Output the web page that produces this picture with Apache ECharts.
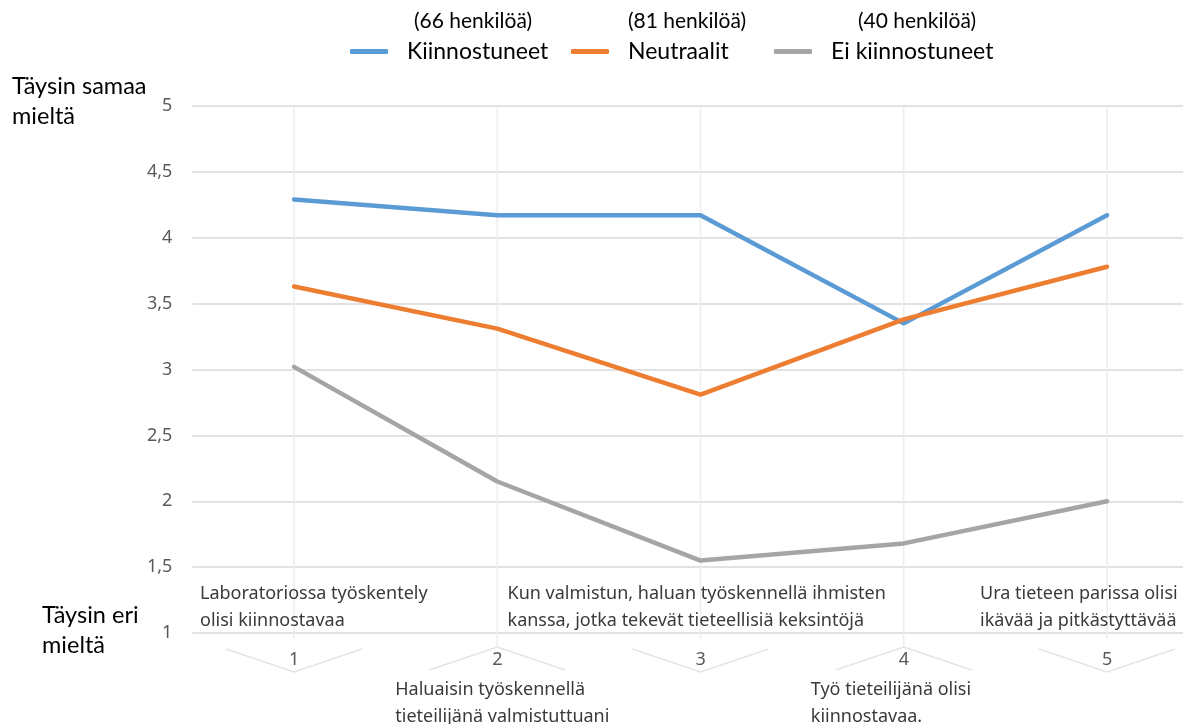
<!DOCTYPE html>
<html><head><meta charset="utf-8">
<script src="https://cdn.jsdelivr.net/npm/echarts@6/dist/echarts.min.js"></script>
<style>html,body{margin:0;padding:0;background:#fff}#c{width:1183px;height:724px}</style>
</head><body><div id="c"></div>
<script>
// ---- data ----
const categories = ['1', '2', '3', '4', '5'];
const descriptions = [
  'Laboratoriossa työskentely\nolisi kiinnostavaa',
  'Haluaisin työskennellä\ntieteilijänä valmistuttuani',
  'Kun valmistun, haluan työskennellä ihmisten\nkanssa, jotka tekevät tieteellisiä keksintöjä',
  'Työ tieteilijänä olisi\nkiinnostavaa.',
  'Ura tieteen parissa olisi\nikävää ja pitkästyttävää'
];
const seriesNames = ['Kiinnostuneet', 'Neutraalit', 'Ei kiinnostuneet'];
const groupSizes = ['(66 henkilöä)', '(81 henkilöä)', '(40 henkilöä)'];
const kiinnostuneet = [4.29, 4.17, 4.17, 3.35, 4.17];
const neutraalit = [3.63, 3.31, 2.81, 3.38, 3.78];
const eiKiinnostuneet = [3.02, 2.15, 1.55, 1.68, 2.00];
const yMin = 1, yMax = 5, yInterval = 0.5;
const yTitleTop = 'Täysin samaa\nmieltä';
const yTitleBottom = 'Täysin eri\nmieltä';

// ---- styles ----
const colors = ['#5B9BD5', '#ED7D31', '#A5A5A5'];
const descDx = [-94, -102, -193, -93, -127];
const legendLeft = [350, 571, 774];
const countCenters = [473, 687, 917];
const uiFont = '"Noto Sans", sans-serif';

const chart = echarts.init(document.getElementById('c'));

const lineSeries = [kiinnostuneet, neutraalit, eiKiinnostuneet].map((d, k) => ({
  name: seriesNames[k],
  type: 'line',
  data: d,
  symbol: 'none',
  z: 5,
  lineStyle: { color: colors[k], width: 4.5, cap: 'round', join: 'round' },
  itemStyle: { color: colors[k] }
}));

const decoSeries = {
  type: 'custom',
  z: 1,
  silent: true,
  clip: false,
  encode: { x: 0, y: 1 },
  data: categories.map((c, i) => [i, yMin]),
  renderItem: function (params, api) {
    const i = api.value(0);
    const top = api.coord([i, yMax]);
    const bot = api.coord([i, yMin]);
    const x = top[0], yb = bot[1];
    const odd = i % 2 === 0;
    return {
      type: 'group',
      children: [
        { type: 'line', shape: { x1: x, y1: top[1] + 1, x2: x, y2: yb + (odd ? 6 : 14) },
          style: { stroke: '#ededed', lineWidth: 1.5 } },
        { type: 'polyline',
          shape: { points: odd ? [[x - 68, yb + 16], [x, yb + 39], [x + 68, yb + 16]]
                               : [[x - 68, yb + 37], [x, yb + 14], [x + 68, yb + 37]] },
          style: { stroke: '#e4e4e4', lineWidth: 1.5, fill: null } },
        { type: 'text', x: x + descDx[i], y: odd ? yb - 53 : yb + 43,
          style: { text: descriptions[i], fill: '#3a3a3a', font: '18px ' + uiFont,
                   lineHeight: 27, align: 'left', verticalAlign: 'top' } }
      ]
    };
  }
};

const option = {
  animation: false,
  backgroundColor: '#fff',
  grid: { left: 192.4, top: 106, width: 1016.25, bottom: 91, outerBoundsMode: 'none', containLabel: false },
  legend: seriesNames.map((n, k) => ({
    data: [n], left: legendLeft[k], top: 40, padding: 0, icon: 'roundRect',
    itemWidth: 38, itemHeight: 5,
    textStyle: { fontSize: 23, fontFamily: 'Lato', color: '#000', padding: [0, 0, 0, 14] }
  })),
  xAxis: {
    type: 'category', data: categories, boundaryGap: true,
    axisLine: { show: false }, axisTick: { show: false }, splitLine: { show: false },
    axisLabel: { margin: 18, fontSize: 18, color: '#595959', fontFamily: uiFont }
  },
  yAxis: {
    type: 'value', min: yMin, max: yMax, interval: yInterval,
    axisLine: { show: false }, axisTick: { show: false },
    splitLine: { lineStyle: { color: '#d9d9d9', width: 1.5 } },
    axisLabel: { margin: 20, fontSize: 18, color: '#595959', fontFamily: uiFont,
                 formatter: v => String(v).replace('.', ',') }
  },
  graphic: [
    { type: 'text', left: 12, top: 71, style: { text: yTitleTop, font: '23.5px Lato', fill: '#000', lineHeight: 30 } },
    { type: 'text', left: 42, top: 600, style: { text: yTitleBottom, font: '23.5px Lato', fill: '#000', lineHeight: 30 } }
  ].concat(groupSizes.map((g, k) => ({
    type: 'text', x: countCenters[k], y: 21,
    style: { text: g, font: '21px Lato', fill: '#000', align: 'center', verticalAlign: 'middle' }
  }))),
  series: [decoSeries].concat(lineSeries)
};
chart.setOption(option);
</script>
</body></html>
